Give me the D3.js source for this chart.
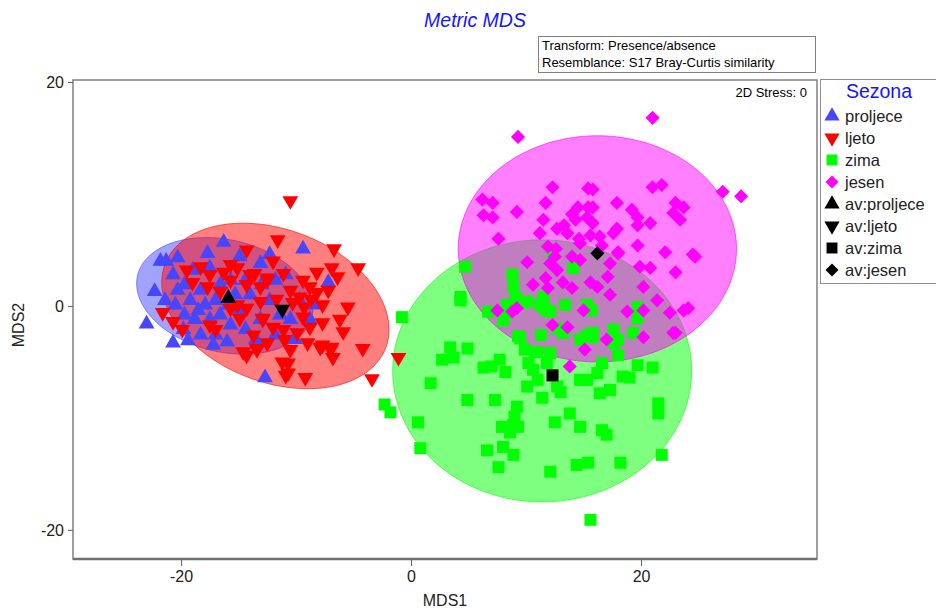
<!DOCTYPE html>
<html><head><meta charset="utf-8">
<script src="https://cdn.jsdelivr.net/npm/d3@7/dist/d3.min.js"></script>
<style>body{margin:0;background:#fff;}svg{display:block;font-family:"Liberation Sans",Arial,sans-serif;}</style>
</head><body><svg id="c" width="936" height="610"></svg>
<script>
// ---- data (MDS1, MDS2) ----
const proljece = [[-23.0,-1.6],[-22.3,1.3],[-21.8,4.0],[-21.3,4.0],[-20.3,4.3],[-17.7,4.7],[-16.3,5.7],[-14.9,4.4],[-13.1,3.8],[-9.4,5.1],
[-20.7,-3.3],[-16.0,-3.2],[-12.7,-6.4],[-20.7,2.8],[-17.5,3.4],[-19.7,1.9],[-19.2,0.5],[-18.3,1.4],[-17.9,0.1],[-17.0,0.5],
[-19.7,-0.8],[-18.8,-1.2],[-17.5,-1.2],[-16.6,-0.8],[-15.7,-1.7],[-18.3,-2.6],[-17.0,-2.6],[-14.9,-0.4],[-14.0,1.0],[-14.4,2.3],
[-15.7,2.3],[-13.1,-1.2],[-12.3,0.5],[-11.8,2.3],[-10.9,2.8],[-13.5,-3.0],[-11.8,-2.6],[-10.5,-1.2],[-9.7,0.5],[-8.3,0.1],
[-7.2,2.1],[-21.4,0.5],[-20.5,0.1],[-20.3,1.4],[-19.0,3.2],[-16.6,1.9],[-15.3,1.0],[-14.4,-2.1],[-8.8,-1.2],[-18.5,-0.4],
[-19.8,-2.1],[-15.9,0.1],[-13.0,1.9],[-11.4,-0.8],[-10.1,-3.0],[-12.3,4.6],[-17.2,-3.5],[-19.4,-3.1]];
const ljeto = [[-10.5,9.4],[-11.6,5.9],[-4.6,3.4],[-4.2,-3.8],[-3.4,-6.5],[-1.1,-4.6],[-9.2,-6.4],[-10.9,-6.2],[-6.8,-4.6],[-7.7,-3.5],
[-5.5,-0.1],[-6.2,-1.2],[-5.9,-2.3],[-6.9,3.4],[-6.4,2.6],[-8.2,3.0],[-7.2,1.4],[-7.7,0.1],[-7.0,-3.9],[-10.7,-5.1],
[-10.5,-3.9],[-9.0,-3.3],[-7.9,-3.7],[-12.5,-3.3],[-13.4,-3.9],[-8.8,-1.9],[-9.4,-1.0],[-10.3,0.3],[-9.7,0.8],[-8.8,1.7],
[-9.4,2.3],[-11.1,2.9],[-12.5,2.3],[-10.5,1.4],[-8.2,1.2],[-7.7,-1.5],[-12.0,-1.9],[-12.9,-1.2],[-11.1,-2.1],[-9.9,-2.4],
[-13.1,1.7],[-13.6,2.9],[-14.3,5.0],[-15.7,3.7],[-15.1,3.4],[-19.5,3.2],[-18.3,3.5],[-17.5,2.8],[-19.0,2.1],[-17.7,1.7],
[-16.6,1.3],[-14.3,1.9],[-14.0,2.8],[-15.7,2.3],[-21.6,-0.6],[-20.7,-1.4],[-19.9,-2.1],[-17.5,-1.7],[-17.0,-2.1],[-15.7,-0.2],
[-15.1,0.1],[-14.3,-0.2],[-14.9,-1.1],[-13.7,-2.6],[-14.6,-4.1],[-13.4,-3.8],[-12.9,-1.1],[-13.1,0.4],[-12.5,2.5],[-11.2,-5.0],
[-14.3,-4.4],[-10.7,-6.0],[-6.9,-3.7],[-9.3,-0.1],[-11.7,0.6],[-8.7,0.6],[-12.0,4.0],[-6.7,5.1],[-11.0,-3.0],[-16.3,3.0]];
const zima = [[-0.8,-1.0],[-2.3,-8.8],[-1.8,-9.5],[1.7,-6.9],[0.6,-10.4],[0.8,-12.7],[2.7,-4.8],[3.4,-3.7],[3.7,-4.6],[4.9,-3.8],
[4.9,-8.4],[6.3,-5.5],[7.0,-5.4],[7.7,-4.8],[8.2,-5.9],[7.3,-8.4],[6.6,-12.9],[7.6,-14.4],[8.0,-12.6],[8.9,-13.3],
[7.9,-10.8],[8.6,-11.3],[9.0,-9.9],[9.2,-9.0],[8.9,-10.6],[9.3,-10.8],[9.5,-2.9],[9.9,-3.9],[10.2,-5.1],[10.6,-5.7],
[10.1,-7.2],[11.0,-6.6],[11.4,-8.2],[11.0,-4.1],[11.8,-5.1],[12.5,-10.4],[12.1,-14.8],[12.7,-7.2],[13.0,-7.7],[13.4,0.1],
[13.8,-9.6],[14.7,-10.8],[14.4,-14.2],[15.4,-14.0],[14.7,-6.6],[15.3,-6.6],[16.2,-6.0],[16.4,-7.8],[17.3,-7.5],[16.6,-11.1],
[17.0,-11.5],[15.6,-19.1],[18.2,-14.0],[18.4,-6.3],[19.0,-6.4],[19.7,-5.3],[21.0,-5.5],[21.5,-8.7],[21.5,-9.6],[21.8,-13.3],
[18.0,-4.4],[18.0,-3.0],[17.6,-2.1],[19.3,-2.4],[16.6,-5.1],[15.3,-2.6],[15.8,-2.4],[19.7,-1.1],[19.7,-0.1],[17.6,-3.3],
[9.3,-2.7],[13.2,-2.4],[12.7,-2.0],[6.7,-0.5],[8.0,-1.3],[8.4,-0.6],[4.3,0.5],[11.8,-0.4],[11.2,0.1],[15.7,-0.4],
[10.1,0.4],[4.7,3.5],[4.3,0.8],[8.8,2.8],[8.9,1.7],[8.3,0.1],[9.7,0.3],[11.5,-0.1],[11.5,0.8],[12.1,-0.5],
[12.3,4.7],[14.1,3.4],[13.4,-2.1],[14.7,-3.0],[15.8,-2.8],[9.1,0.7],[12.1,-4.2],[11.3,-2.6],[15.3,0.1],[10.8,-4.1]];
const jesen = [[9.3,15.1],[21.0,16.8],[27.1,10.2],[28.7,9.8],[12.3,10.6],[15.4,10.5],[15.8,10.4],[21.0,10.6],[21.8,10.8],[6.2,9.5],
[7.1,9.2],[6.3,8.1],[7.1,7.9],[9.2,8.4],[11.7,9.2],[14.5,8.8],[15.4,8.8],[15.8,8.8],[17.9,9.2],[19.2,8.6],
[19.7,7.9],[23.0,9.2],[23.7,8.8],[22.8,8.3],[23.4,7.7],[20.8,7.4],[19.7,7.2],[11.5,7.7],[14.3,7.7],[15.3,7.9],
[15.8,7.4],[12.7,6.9],[13.6,6.5],[11.2,6.5],[7.6,6.0],[17.9,6.9],[17.6,6.5],[15.6,6.3],[14.7,5.6],[19.7,5.4],
[18.0,4.8],[22.1,4.8],[24.5,4.6],[11.9,5.3],[10.1,3.9],[12.1,3.8],[12.7,3.2],[14.0,4.4],[14.7,4.1],[17.3,3.8],
[18.0,4.7],[19.9,3.5],[20.8,3.4],[23.0,3.0],[24.7,4.4],[10.6,1.9],[11.7,2.5],[13.2,2.1],[14.0,1.6],[15.6,2.1],
[16.2,1.7],[17.1,2.6],[17.3,1.0],[20.2,1.7],[21.4,0.5],[18.8,-0.5],[20.2,-0.4],[22.5,-0.6],[23.7,-0.4],[24.1,-0.2],
[23.0,-2.4],[20.2,-2.8],[15.0,-0.4],[17.0,-3.0],[15.1,-3.9],[12.3,-1.7],[13.6,-1.9],[7.5,-0.4],[8.8,-0.5],[9.2,-0.2],
[11.9,1.6],[13.8,-5.4],[22.8,-2.4],[12.6,5.1],[14.6,6.0],[16.4,6.2],[13.3,7.2],[14.0,8.2],[16.6,5.4],[12.5,4.4]];
const averages = [["proljece",-15.9,0.7],["ljeto",-11.2,-0.3],["zima",12.3,-6.2],["jesen",16.2,4.7]];
// ellipse: [centerX, centerY, semiAxisA, semiAxisB, angleDeg]
const ellipses = {proljece:[-16.2,0.9,7.8,5.0,-14], ljeto:[-11.8,0.0,10.3,6.8,-22], zima:[11.4,-5.8,13.0,11.7,0], jesen:[16.2,5.1,12.1,10.1,0]};
const xTicks = [-20,0,20];
const yTicks = [-20,0,20];
const legendLabels = ["proljece","ljeto","zima","jesen","av:proljece","av:ljeto","av:zima","av:jesen"];

const colors = {proljece:"#4646ff", ljeto:"#ff0000", zima:"#00ff00", jesen:"#ff00ff"};
const svg = d3.select("#c");
const M = {l:73, t:80, r:817, b:559};
const x = d3.scaleLinear().domain([-29.4, 35.3]).range([M.l, M.r]);
const y = d3.scaleLinear().domain([20.18, -22.6]).range([M.t, M.b]);

function symPath(kind, size){
  if(kind==="proljece"||kind==="ljeto") return d3.symbol(d3.symbolTriangle, size||108)();
  return d3.symbol(d3.symbolSquare, size||(kind==="zima"?144:100))();
}
function symTransform(kind, px, py){
  if(kind==="ljeto") return `translate(${px},${py}) rotate(180)`;
  if(kind==="jesen") return `translate(${px},${py}) rotate(45)`;
  return `translate(${px},${py})`;
}

// title
svg.append("text").attr("x",475).attr("y",27).attr("text-anchor","middle")
  .attr("font-size",19.5).attr("font-style","italic").attr("fill","#1414ff").text("Metric MDS");
// transform box
svg.append("rect").attr("x",538.5).attr("y",36.5).attr("width",277).attr("height",36).attr("fill","#fff").attr("stroke","#808080");
svg.append("text").attr("x",542).attr("y",50).attr("font-size",13).attr("fill","#000").text("Transform: Presence/absence");
svg.append("text").attr("x",542).attr("y",67).attr("font-size",13).attr("fill","#000").text("Resemblance: S17 Bray-Curtis similarity");

// ellipses
const order = ["proljece","ljeto","zima","jesen"];
const g = svg.append("g");
order.forEach(k=>{
  const [cx,cy,a,b,ang] = ellipses[k];
  const th = ang*Math.PI/180;
  const pts = d3.range(0,361,2).map(t=>{
    const r = t*Math.PI/180;
    const ex = cx + a*Math.cos(th)*Math.cos(r) - b*Math.sin(th)*Math.sin(r);
    const ey = cy + a*Math.sin(th)*Math.cos(r) + b*Math.cos(th)*Math.sin(r);
    return [x(ex), y(ey)];
  });
  g.append("path").attr("d", d3.line()(pts)+"Z").attr("fill",colors[k]).attr("fill-opacity",0.5)
   .attr("stroke",colors[k]).attr("stroke-opacity",0.6).attr("stroke-width",1);
});
// points
const data = {proljece, ljeto, zima, jesen};
order.forEach(k=>{
  g.selectAll(null).data(data[k]).join("path")
   .attr("d", symPath(k)).attr("transform", d=>symTransform(k, x(d[0]), y(d[1])))
   .attr("fill", colors[k]);
});
// averages
averages.forEach(([k,ax,ay])=>{
  g.append("path").attr("d", symPath(k)).attr("transform", symTransform(k, x(ax), y(ay))).attr("fill","#000");
});

// frame
svg.append("rect").attr("x",M.l).attr("y",M.t).attr("width",M.r-M.l).attr("height",M.b-M.t)
  .attr("fill","none").attr("stroke","#808080").attr("stroke-width",1.5);
svg.append("line").attr("x1",M.l).attr("x2",M.r).attr("y1",M.b).attr("y2",M.b).attr("stroke","#707070").attr("stroke-width",2.5);

// axes
const fmt = d=>String(d);
const ax = svg.append("g").attr("transform",`translate(0,${M.b+1})`).call(d3.axisBottom(x).tickValues(xTicks).tickSize(6).tickPadding(5).tickFormat(fmt));
const ay = svg.append("g").attr("transform",`translate(${M.l},0)`).call(d3.axisLeft(y).tickValues(yTicks).tickSize(5).tickPadding(4).tickFormat(fmt));
[ax,ay].forEach(a=>{
  a.select(".domain").remove();
  a.selectAll("line").attr("stroke","#606060");
  a.selectAll("text").attr("font-size",16).attr("fill","#222").attr("font-family","'Liberation Sans',Arial,sans-serif");
});
svg.append("text").attr("x",445).attr("y",606).attr("text-anchor","middle").attr("font-size",16).attr("fill","#222").text("MDS1");
svg.append("text").attr("transform","translate(24,325) rotate(-90)").attr("text-anchor","middle").attr("font-size",16).attr("fill","#222").text("MDS2");
svg.append("text").attr("x",807).attr("y",97).attr("text-anchor","end").attr("font-size",13).attr("fill","#000").text("2D Stress: 0");

// legend
svg.append("rect").attr("x",820.5).attr("y",79.5).attr("width",130).attr("height",204).attr("fill","#fff").attr("stroke","#909090");
svg.append("text").attr("x",879).attr("y",98).attr("text-anchor","middle").attr("font-size",19.5).attr("fill","#1414ff").text("Sezona");
legendLabels.forEach((lab,i)=>{
  const yy = 116 + i*22;
  const kind = lab.replace("av:","");
  const avg = lab.startsWith("av:");
  svg.append("path").attr("d", symPath(kind, kind==="zima"?120:(kind==="jesen"?85:100)))
    .attr("transform", symTransform(kind, 832, yy)).attr("fill", avg?"#000":colors[kind]);
  svg.append("text").attr("x",845).attr("y",yy+5.5).attr("font-size",16.5).attr("fill","#222").text(lab);
});
</script></body></html>
